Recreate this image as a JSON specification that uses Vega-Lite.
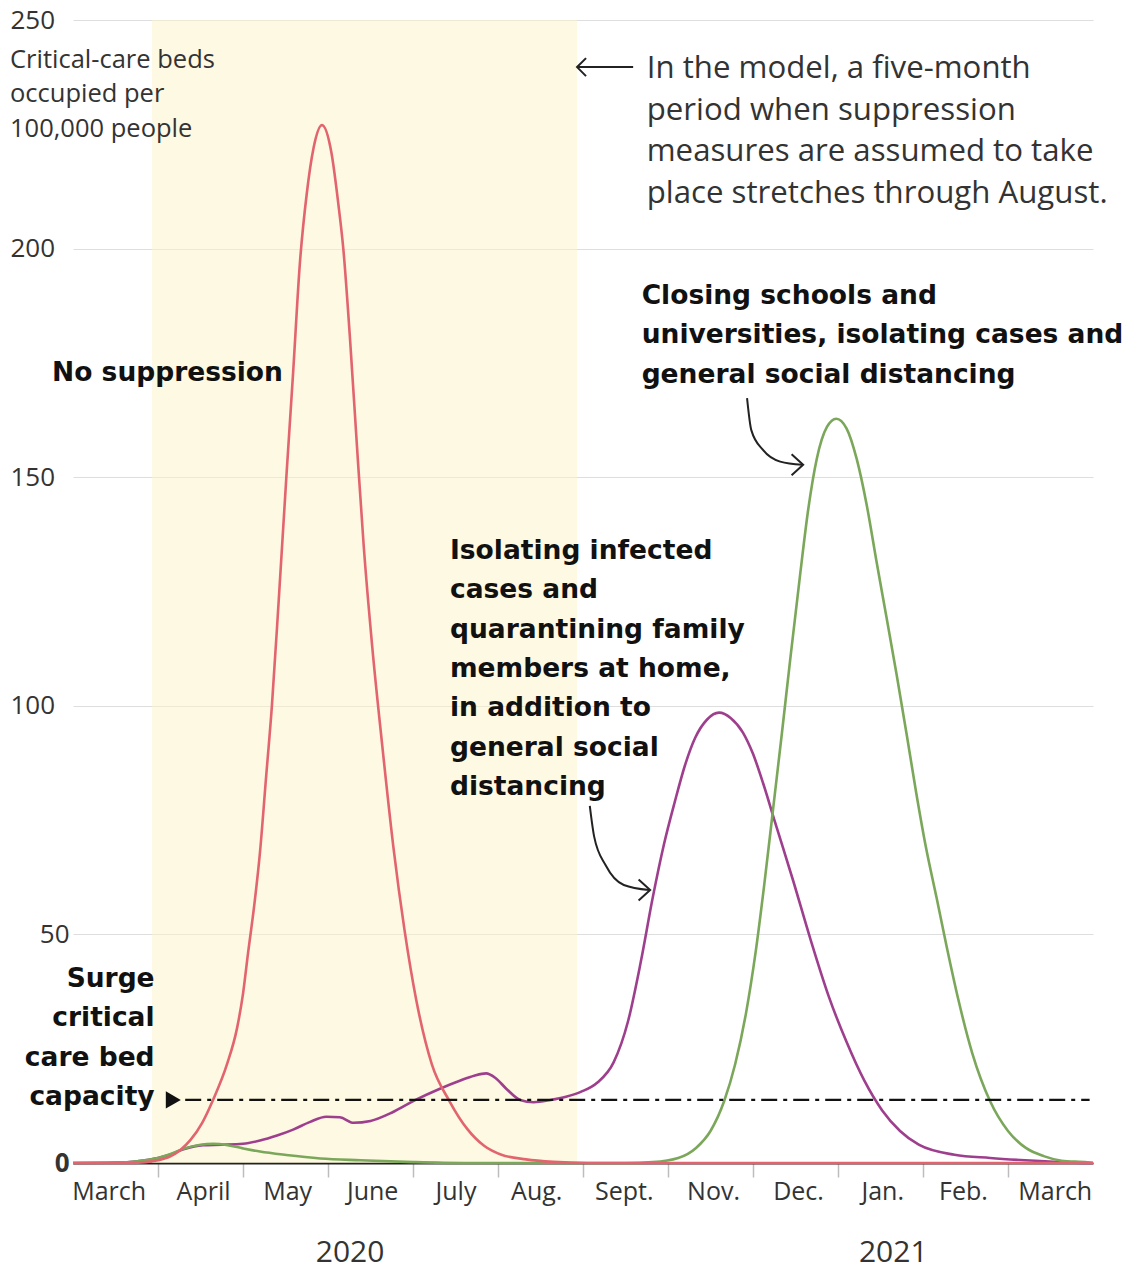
{
  "$schema": "https://vega.github.io/schema/vega-lite/v6.json",
  "width": 1020,
  "height": 1143,
  "autosize": "none",
  "padding": {"left": 73, "top": 20, "right": 37, "bottom": 111},
  "background": "white",
  "config": {"view": {"stroke": null}},
  "datasets": {
    "curves": [
      {"scenario": "No suppression", "t": 0, "v": 0},
      {"scenario": "No suppression", "t": 0.6, "v": 0},
      {"scenario": "No suppression", "t": 0.85, "v": 0.2},
      {"scenario": "No suppression", "t": 1.0, "v": 0.6},
      {"scenario": "No suppression", "t": 1.14, "v": 1.4},
      {"scenario": "No suppression", "t": 1.26, "v": 2.8},
      {"scenario": "No suppression", "t": 1.38, "v": 5},
      {"scenario": "No suppression", "t": 1.52, "v": 8.8},
      {"scenario": "No suppression", "t": 1.65, "v": 13.9},
      {"scenario": "No suppression", "t": 1.81, "v": 21.5},
      {"scenario": "No suppression", "t": 1.93, "v": 29.5},
      {"scenario": "No suppression", "t": 2.00, "v": 37},
      {"scenario": "No suppression", "t": 2.06, "v": 46},
      {"scenario": "No suppression", "t": 2.13, "v": 56},
      {"scenario": "No suppression", "t": 2.20, "v": 68},
      {"scenario": "No suppression", "t": 2.27, "v": 84},
      {"scenario": "No suppression", "t": 2.34, "v": 100},
      {"scenario": "No suppression", "t": 2.42, "v": 123},
      {"scenario": "No suppression", "t": 2.51, "v": 150},
      {"scenario": "No suppression", "t": 2.59, "v": 173},
      {"scenario": "No suppression", "t": 2.67, "v": 197},
      {"scenario": "No suppression", "t": 2.75, "v": 212},
      {"scenario": "No suppression", "t": 2.83, "v": 222},
      {"scenario": "No suppression", "t": 2.93, "v": 227},
      {"scenario": "No suppression", "t": 3.04, "v": 221},
      {"scenario": "No suppression", "t": 3.12, "v": 210},
      {"scenario": "No suppression", "t": 3.18, "v": 200},
      {"scenario": "No suppression", "t": 3.26, "v": 180},
      {"scenario": "No suppression", "t": 3.34, "v": 157},
      {"scenario": "No suppression", "t": 3.42, "v": 135},
      {"scenario": "No suppression", "t": 3.52, "v": 113},
      {"scenario": "No suppression", "t": 3.64, "v": 91},
      {"scenario": "No suppression", "t": 3.77, "v": 69},
      {"scenario": "No suppression", "t": 3.90, "v": 51},
      {"scenario": "No suppression", "t": 4.04, "v": 35.5},
      {"scenario": "No suppression", "t": 4.22, "v": 21.7},
      {"scenario": "No suppression", "t": 4.43, "v": 13.5},
      {"scenario": "No suppression", "t": 4.64, "v": 7.4},
      {"scenario": "No suppression", "t": 4.84, "v": 3.7},
      {"scenario": "No suppression", "t": 5.04, "v": 1.8},
      {"scenario": "No suppression", "t": 5.33, "v": 0.8},
      {"scenario": "No suppression", "t": 5.65, "v": 0.25},
      {"scenario": "No suppression", "t": 6.05, "v": 0},
      {"scenario": "No suppression", "t": 12, "v": 0},

      {"scenario": "Isolating and quarantining", "t": 0, "v": 0},
      {"scenario": "Isolating and quarantining", "t": 0.5, "v": 0.1},
      {"scenario": "Isolating and quarantining", "t": 0.76, "v": 0.4},
      {"scenario": "Isolating and quarantining", "t": 1.0, "v": 1.1},
      {"scenario": "Isolating and quarantining", "t": 1.14, "v": 1.8},
      {"scenario": "Isolating and quarantining", "t": 1.3, "v": 3},
      {"scenario": "Isolating and quarantining", "t": 1.53, "v": 3.9},
      {"scenario": "Isolating and quarantining", "t": 1.75, "v": 4.0},
      {"scenario": "Isolating and quarantining", "t": 2.0, "v": 4.2},
      {"scenario": "Isolating and quarantining", "t": 2.2, "v": 4.9},
      {"scenario": "Isolating and quarantining", "t": 2.4, "v": 6},
      {"scenario": "Isolating and quarantining", "t": 2.59, "v": 7.3},
      {"scenario": "Isolating and quarantining", "t": 2.79, "v": 9},
      {"scenario": "Isolating and quarantining", "t": 2.98, "v": 10.1},
      {"scenario": "Isolating and quarantining", "t": 3.14, "v": 10},
      {"scenario": "Isolating and quarantining", "t": 3.30, "v": 8.8},
      {"scenario": "Isolating and quarantining", "t": 3.50, "v": 9.2},
      {"scenario": "Isolating and quarantining", "t": 3.76, "v": 11.1},
      {"scenario": "Isolating and quarantining", "t": 4.03, "v": 13.8},
      {"scenario": "Isolating and quarantining", "t": 4.31, "v": 16.2},
      {"scenario": "Isolating and quarantining", "t": 4.55, "v": 18},
      {"scenario": "Isolating and quarantining", "t": 4.72, "v": 19.1},
      {"scenario": "Isolating and quarantining", "t": 4.86, "v": 19.6},
      {"scenario": "Isolating and quarantining", "t": 4.97, "v": 18.6},
      {"scenario": "Isolating and quarantining", "t": 5.10, "v": 16.2},
      {"scenario": "Isolating and quarantining", "t": 5.26, "v": 13.8},
      {"scenario": "Isolating and quarantining", "t": 5.42, "v": 13.3},
      {"scenario": "Isolating and quarantining", "t": 5.62, "v": 13.8},
      {"scenario": "Isolating and quarantining", "t": 5.80, "v": 14.5},
      {"scenario": "Isolating and quarantining", "t": 5.98, "v": 15.6},
      {"scenario": "Isolating and quarantining", "t": 6.17, "v": 17.6},
      {"scenario": "Isolating and quarantining", "t": 6.36, "v": 22},
      {"scenario": "Isolating and quarantining", "t": 6.53, "v": 31},
      {"scenario": "Isolating and quarantining", "t": 6.68, "v": 44},
      {"scenario": "Isolating and quarantining", "t": 6.82, "v": 58},
      {"scenario": "Isolating and quarantining", "t": 6.95, "v": 69.5},
      {"scenario": "Isolating and quarantining", "t": 7.08, "v": 79},
      {"scenario": "Isolating and quarantining", "t": 7.20, "v": 87},
      {"scenario": "Isolating and quarantining", "t": 7.32, "v": 93},
      {"scenario": "Isolating and quarantining", "t": 7.46, "v": 97},
      {"scenario": "Isolating and quarantining", "t": 7.60, "v": 98.5},
      {"scenario": "Isolating and quarantining", "t": 7.74, "v": 97.3},
      {"scenario": "Isolating and quarantining", "t": 7.88, "v": 94.2},
      {"scenario": "Isolating and quarantining", "t": 8.00, "v": 89.5},
      {"scenario": "Isolating and quarantining", "t": 8.12, "v": 83},
      {"scenario": "Isolating and quarantining", "t": 8.26, "v": 74.5},
      {"scenario": "Isolating and quarantining", "t": 8.47, "v": 61.9},
      {"scenario": "Isolating and quarantining", "t": 8.68, "v": 48.7},
      {"scenario": "Isolating and quarantining", "t": 8.89, "v": 36.5},
      {"scenario": "Isolating and quarantining", "t": 9.10, "v": 26.5},
      {"scenario": "Isolating and quarantining", "t": 9.31, "v": 18},
      {"scenario": "Isolating and quarantining", "t": 9.52, "v": 11.5},
      {"scenario": "Isolating and quarantining", "t": 9.73, "v": 7},
      {"scenario": "Isolating and quarantining", "t": 9.95, "v": 4},
      {"scenario": "Isolating and quarantining", "t": 10.37, "v": 1.8},
      {"scenario": "Isolating and quarantining", "t": 10.79, "v": 1.1},
      {"scenario": "Isolating and quarantining", "t": 11.2, "v": 0.6},
      {"scenario": "Isolating and quarantining", "t": 11.63, "v": 0.2},
      {"scenario": "Isolating and quarantining", "t": 12, "v": 0},

      {"scenario": "Closing schools", "t": 0, "v": 0},
      {"scenario": "Closing schools", "t": 0.5, "v": 0.1},
      {"scenario": "Closing schools", "t": 0.76, "v": 0.4},
      {"scenario": "Closing schools", "t": 1.0, "v": 1.1},
      {"scenario": "Closing schools", "t": 1.14, "v": 1.9},
      {"scenario": "Closing schools", "t": 1.3, "v": 3.1},
      {"scenario": "Closing schools", "t": 1.5, "v": 4.0},
      {"scenario": "Closing schools", "t": 1.65, "v": 4.2},
      {"scenario": "Closing schools", "t": 1.82, "v": 3.9},
      {"scenario": "Closing schools", "t": 2.0, "v": 3.2},
      {"scenario": "Closing schools", "t": 2.2, "v": 2.5},
      {"scenario": "Closing schools", "t": 2.51, "v": 1.75},
      {"scenario": "Closing schools", "t": 2.91, "v": 1.0},
      {"scenario": "Closing schools", "t": 3.38, "v": 0.6},
      {"scenario": "Closing schools", "t": 4.0, "v": 0.2},
      {"scenario": "Closing schools", "t": 4.6, "v": 0},
      {"scenario": "Closing schools", "t": 6.5, "v": 0},
      {"scenario": "Closing schools", "t": 6.82, "v": 0.2},
      {"scenario": "Closing schools", "t": 7.12, "v": 1.1},
      {"scenario": "Closing schools", "t": 7.33, "v": 3.3},
      {"scenario": "Closing schools", "t": 7.50, "v": 7},
      {"scenario": "Closing schools", "t": 7.66, "v": 13.5},
      {"scenario": "Closing schools", "t": 7.79, "v": 21.6},
      {"scenario": "Closing schools", "t": 7.92, "v": 33},
      {"scenario": "Closing schools", "t": 8.03, "v": 46},
      {"scenario": "Closing schools", "t": 8.13, "v": 60.5},
      {"scenario": "Closing schools", "t": 8.24, "v": 78},
      {"scenario": "Closing schools", "t": 8.34, "v": 94},
      {"scenario": "Closing schools", "t": 8.44, "v": 110.5},
      {"scenario": "Closing schools", "t": 8.55, "v": 128},
      {"scenario": "Closing schools", "t": 8.65, "v": 143},
      {"scenario": "Closing schools", "t": 8.75, "v": 154},
      {"scenario": "Closing schools", "t": 8.87, "v": 161},
      {"scenario": "Closing schools", "t": 8.98, "v": 162.8},
      {"scenario": "Closing schools", "t": 9.10, "v": 160.7},
      {"scenario": "Closing schools", "t": 9.22, "v": 154},
      {"scenario": "Closing schools", "t": 9.34, "v": 143.7},
      {"scenario": "Closing schools", "t": 9.45, "v": 131.9},
      {"scenario": "Closing schools", "t": 9.57, "v": 119.4},
      {"scenario": "Closing schools", "t": 9.69, "v": 106.8},
      {"scenario": "Closing schools", "t": 9.81, "v": 93.5},
      {"scenario": "Closing schools", "t": 9.92, "v": 81},
      {"scenario": "Closing schools", "t": 10.03, "v": 69.5},
      {"scenario": "Closing schools", "t": 10.16, "v": 58},
      {"scenario": "Closing schools", "t": 10.28, "v": 47.2},
      {"scenario": "Closing schools", "t": 10.41, "v": 36.2},
      {"scenario": "Closing schools", "t": 10.58, "v": 24},
      {"scenario": "Closing schools", "t": 10.79, "v": 13.5},
      {"scenario": "Closing schools", "t": 11.0, "v": 7},
      {"scenario": "Closing schools", "t": 11.21, "v": 3.3},
      {"scenario": "Closing schools", "t": 11.42, "v": 1.5},
      {"scenario": "Closing schools", "t": 11.63, "v": 0.5},
      {"scenario": "Closing schools", "t": 11.93, "v": 0.15},
      {"scenario": "Closing schools", "t": 12, "v": 0}
    ],
    "arrows": [
      {"arrow": "isolating", "t": 6.08, "v": 78.1},
      {"arrow": "isolating", "t": 6.13, "v": 71.5},
      {"arrow": "isolating", "t": 6.27, "v": 65.0},
      {"arrow": "isolating", "t": 6.48, "v": 60.8},
      {"arrow": "isolating", "t": 6.78, "v": 59.7},
      {"arrow": "schools", "t": 7.93, "v": 167.3},
      {"arrow": "schools", "t": 7.98, "v": 160.3},
      {"arrow": "schools", "t": 8.12, "v": 155.9},
      {"arrow": "schools", "t": 8.32, "v": 153.4},
      {"arrow": "schools", "t": 8.58, "v": 152.7},
      {"arrow": "period", "t": 5.93, "v": 239.7},
      {"arrow": "period", "t": 6.59, "v": 239.7}
    ],
    "heads": [
      {"arrow": "isolating", "t": 6.79, "v": 59.7},
      {"arrow": "schools", "t": 8.59, "v": 152.7}
    ]
  },
  "layer": [
    {
      "data": {"values": [{}]},
      "mark": {"type": "rect", "fill": "#fdf3c8", "opacity": 0.5},
      "encoding": {
        "x": {
          "datum": 0.93,
          "type": "quantitative",
          "scale": {"domain": [0, 12], "nice": false, "zero": false},
          "axis": {
            "title": null,
            "values": [0.42, 1, 1.53, 2, 2.52, 3, 3.52, 4, 4.5, 5, 5.45, 6, 6.48, 7, 7.53, 8, 8.53, 9, 9.52, 10, 10.47, 11, 11.55],
            "labelExpr": "datum.value % 1 === 0 ? '' : ['March','April','May','June','July','Aug.','Sept.','Nov.','Dec.','Jan.','Feb.','March'][floor(datum.value)]",
            "tickOpacity": {"condition": {"test": "datum.value % 1 === 0", "value": 1}, "value": 0},
            "tickSize": 14,
            "tickColor": "#bdbdbd",
            "tickWidth": 1.5,
            "grid": false,
            "domainColor": "#222222",
            "domainWidth": 2,
            "labelPadding": 2,
            "labelFont": "Open Sans",
            "labelFontSize": 25,
            "labelColor": "#333333",
            "labelFlush": false,
            "labelOverlap": false,
            "labelBound": false
          }
        },
        "x2": {"datum": 5.93},
        "y": {
          "datum": 0,
          "type": "quantitative",
          "scale": {"domain": [0, 250], "nice": false},
          "axis": {
            "title": null,
            "values": [0, 50, 100, 150, 200, 250],
            "grid": true,
            "gridColor": "#dedede",
            "gridWidth": 1,
            "domain": false,
            "ticks": false,
            "labelAlign": {"condition": {"test": "datum.value < 100", "value": "right"}, "value": "left"},
            "labelPadding": {"condition": {"test": "datum.value < 100", "value": 4}, "value": 63},
            "labelFontWeight": {"condition": {"test": "datum.value === 0", "value": "bold"}, "value": "normal"},
            "labelBaseline": "middle",
            "labelFont": "Open Sans",
            "labelFontSize": 26,
            "labelColor": "#333333",
            "labelFlush": false,
            "labelOverlap": false,
            "labelBound": false
          }
        },
        "y2": {"datum": 250}
      }
    },
    {
      "data": {"name": "curves"},
      "transform": [{"filter": "datum.scenario === 'Isolating and quarantining'"}],
      "mark": {"type": "line", "interpolate": "monotone", "strokeWidth": 2.6, "color": "#9e3f8e"},
      "encoding": {
        "x": {"field": "t", "type": "quantitative"},
        "y": {"field": "v", "type": "quantitative"}
      }
    },
    {
      "data": {"name": "curves"},
      "transform": [{"filter": "datum.scenario === 'Closing schools'"}],
      "mark": {"type": "line", "interpolate": "monotone", "strokeWidth": 2.6, "color": "#7ba75a"},
      "encoding": {
        "x": {"field": "t", "type": "quantitative"},
        "y": {"field": "v", "type": "quantitative"}
      }
    },
    {
      "data": {"name": "curves"},
      "transform": [{"filter": "datum.scenario === 'No suppression'"}],
      "mark": {"type": "line", "interpolate": "monotone", "strokeWidth": 2.6, "color": "#e2646e"},
      "encoding": {
        "x": {"field": "t", "type": "quantitative"},
        "y": {"field": "v", "type": "quantitative"}
      }
    },
    {
      "data": {"values": [{}]},
      "mark": {"type": "rule", "color": "#111111", "strokeWidth": 2.3, "strokeDash": [16, 6, 4, 6]},
      "encoding": {
        "x": {"datum": 1.32},
        "x2": {"datum": 11.96},
        "y": {"datum": 13.8}
      }
    },
    {
      "data": {"values": [{}]},
      "mark": {"type": "point", "shape": "triangle-right", "filled": true, "color": "#111111", "size": 300, "opacity": 1},
      "encoding": {
        "x": {"datum": 1.18},
        "y": {"datum": 13.8}
      }
    },
    {
      "data": {"name": "arrows"},
      "mark": {"type": "line", "interpolate": "monotone", "color": "#222222", "strokeWidth": 2},
      "encoding": {
        "x": {"field": "t", "type": "quantitative"},
        "y": {"field": "v", "type": "quantitative"},
        "detail": {"field": "arrow"}
      }
    },
    {
      "data": {"name": "heads"},
      "mark": {"type": "point", "shape": "M-1.1,-1L0,0L-1.1,1", "filled": false, "color": "#222222", "strokeWidth": 2, "size": 441, "opacity": 1},
      "encoding": {
        "x": {"field": "t", "type": "quantitative"},
        "y": {"field": "v", "type": "quantitative"}
      }
    },
    {
      "data": {"values": [{}]},
      "mark": {"type": "point", "shape": "M1,-1L0,0L1,1", "filled": false, "color": "#222222", "strokeWidth": 2, "size": 324, "opacity": 1},
      "encoding": {
        "x": {"datum": 5.93},
        "y": {"datum": 239.7}
      }
    },
    {
      "data": {"values": [{}]},
      "mark": {"type": "text", "align": "left", "baseline": "alphabetic", "font": "Open Sans", "fontSize": 25.5, "lineHeight": 34.5, "color": "#333333"},
      "encoding": {
        "x": {"datum": -0.741},
        "y": {"datum": 239.6},
        "text": {"value": ["Critical-care beds", "occupied per", "100,000 people"]}
      }
    },
    {
      "data": {"values": [{}]},
      "mark": {"type": "text", "align": "left", "baseline": "alphabetic", "font": "Open Sans", "fontSize": 31.2, "lineHeight": 41.5, "color": "#333333"},
      "encoding": {
        "x": {"datum": 6.75},
        "y": {"datum": 237.25},
        "text": {"value": ["In the model, a five-month", "period when suppression", "measures are assumed to take", "place stretches through August."]}
      }
    },
    {
      "data": {"values": [{}]},
      "mark": {"type": "text", "align": "left", "baseline": "alphabetic", "font": "DejaVu Sans", "fontWeight": "bold", "fontSize": 26.5, "color": "#111111"},
      "encoding": {
        "x": {"datum": -0.247},
        "y": {"datum": 171.0},
        "text": {"value": "No suppression"}
      }
    },
    {
      "data": {"values": [{}]},
      "mark": {"type": "text", "align": "left", "baseline": "alphabetic", "font": "DejaVu Sans", "fontWeight": "bold", "fontSize": 26.5, "lineHeight": 39.5, "color": "#111111"},
      "encoding": {
        "x": {"datum": 6.69},
        "y": {"datum": 187.9},
        "text": {"value": ["Closing schools and", "universities, isolating cases and", "general social distancing"]}
      }
    },
    {
      "data": {"values": [{}]},
      "mark": {"type": "text", "align": "left", "baseline": "alphabetic", "font": "DejaVu Sans", "fontWeight": "bold", "fontSize": 26.5, "lineHeight": 39.3, "color": "#111111"},
      "encoding": {
        "x": {"datum": 4.435},
        "y": {"datum": 132.1},
        "text": {"value": ["Isolating infected", "cases and", "quarantining family", "members at home,", "in addition to", "general social", "distancing"]}
      }
    },
    {
      "data": {"values": [{}]},
      "mark": {"type": "text", "align": "right", "baseline": "alphabetic", "font": "DejaVu Sans", "fontWeight": "bold", "fontSize": 26.5, "lineHeight": 39.3, "color": "#111111"},
      "encoding": {
        "x": {"datum": 0.96},
        "y": {"datum": 38.5},
        "text": {"value": ["Surge", "critical", "care bed", "capacity"]}
      }
    },
    {
      "data": {"values": [{}]},
      "mark": {"type": "text", "align": "center", "baseline": "alphabetic", "font": "Open Sans", "fontSize": 30, "color": "#333333"},
      "encoding": {
        "x": {"datum": 3.26},
        "y": {"datum": -21.6},
        "text": {"value": "2020"}
      }
    },
    {
      "data": {"values": [{}]},
      "mark": {"type": "text", "align": "center", "baseline": "alphabetic", "font": "Open Sans", "fontSize": 30, "color": "#333333"},
      "encoding": {
        "x": {"datum": 9.65},
        "y": {"datum": -21.6},
        "text": {"value": "2021"}
      }
    }
  ]
}
